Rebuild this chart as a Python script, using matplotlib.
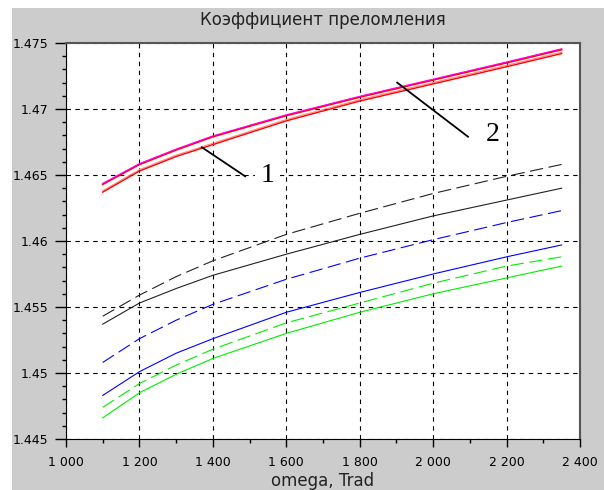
import matplotlib
matplotlib.use("Agg")
import matplotlib.pyplot as plt
import matplotlib.patheffects as pe
from matplotlib.patches import Rectangle
from matplotlib.ticker import MultipleLocator, FuncFormatter

# Данные
omega = [1100, 1200, 1300, 1400, 1600, 1800, 2000, 2200, 2350]

n_red_2 = [1.4643, 1.4658, 1.4669, 1.4679, 1.4695, 1.4709, 1.4722, 1.4735, 1.4745]
n_red_1 = [1.4637, 1.4653, 1.4664, 1.4673, 1.4691, 1.4706, 1.4719, 1.4732, 1.4742]
n_black_dash = [1.4543, 1.4559, 1.4573, 1.4585, 1.4605, 1.4621, 1.4636, 1.4649, 1.4658]
n_black = [1.4537, 1.4553, 1.4564, 1.4574, 1.4590, 1.4605, 1.4619, 1.4631, 1.4640]
n_blue_dash = [1.4508, 1.4526, 1.4540, 1.4552, 1.4571, 1.4587, 1.4601, 1.4614, 1.4623]
n_blue = [1.4483, 1.4501, 1.4515, 1.4526, 1.4546, 1.4561, 1.4575, 1.4588, 1.4597]
n_green_dash = [1.4474, 1.4492, 1.4506, 1.4518, 1.4538, 1.4553, 1.4568, 1.4581, 1.4588]
n_green = [1.4466, 1.4485, 1.4499, 1.4511, 1.4530, 1.4546, 1.4560, 1.4572, 1.4581]

# подписи кривых: (текст, позиция текста, начало линии, конец линии)
labels = ["1", "2"]
label_pos = [(1549, 1.4650), (2161, 1.4681)]
leader_start = [(1370, 1.4671), (1902, 1.4720)]
leader_end = [(1488, 1.4649), (2095, 1.4679)]

title = "Коэффициент преломления"
xlabel = "omega, Trad"

fig = plt.figure(figsize=(6.04, 4.90), dpi=100)
fig.patch.set_facecolor("white")
# серый фон окна
fig.patches.append(Rectangle((12 / 604, 0), 1, (490 - 8) / 490, transform=fig.transFigure,
                             facecolor="#cccccc", edgecolor="none", zorder=-10))

ax = fig.add_axes([66 / 604, 51 / 490, 514 / 604, 396 / 490])
ax.set_facecolor("white")

dash = (0, (12, 5))
ax.plot(omega, n_black_dash, color="#222222", lw=0.8, linestyle=dash)
ax.plot(omega, n_black, color="#222222", lw=0.8)
ax.plot(omega, n_blue_dash, color="#0000ff", lw=0.8, linestyle=dash)
ax.plot(omega, n_blue, color="#0000ff", lw=0.8)
ax.plot(omega, n_green_dash, color="#00ee00", lw=0.8, linestyle=dash)
ax.plot(omega, n_green, color="#00ee00", lw=0.8)

# красные кривые (двойная линия)
ax.plot(omega, n_red_1, color="red", lw=1.0,
        path_effects=[pe.Stroke(linewidth=0.8, foreground="#ff8888", offset=(0, 1.0)), pe.Normal()])
ax.plot(omega, n_red_2, color="red", lw=1.3,
        path_effects=[pe.Normal(), pe.Stroke(linewidth=0.8, foreground="#ff00ff", offset=(0, 0.6))])

# выноски
for txt, pos, p0, p1 in zip(labels, label_pos, leader_start, leader_end):
    ax.text(pos[0], pos[1], txt, fontsize=20, family="Liberation Serif", ha="center", va="center",
            bbox=dict(facecolor="white", edgecolor="none", pad=4), zorder=4)
    ax.plot([p0[0], p1[0]], [p0[1], p1[1]], color="black", lw=1.3, zorder=5)

ax.set_xlim(1000, 2400)
ax.set_ylim(1.445, 1.475)
ax.xaxis.set_major_locator(MultipleLocator(200))
ax.xaxis.set_minor_locator(MultipleLocator(100))
ax.yaxis.set_major_locator(MultipleLocator(0.005))
ax.yaxis.set_minor_locator(MultipleLocator(0.001))
ax.xaxis.set_major_formatter(FuncFormatter(lambda v, p: f"{int(round(v)):,}".replace(",", " ")))
ax.yaxis.set_major_formatter(FuncFormatter(lambda v, p: f"{v:g}"))

ax.grid(True, which="major", color="black", linestyle=(0, (4, 4)), linewidth=0.8)
ax.set_axisbelow(True)

ax.tick_params(axis="both", which="major", labelsize=9, direction="out", length=6, width=1, color="black")
ax.tick_params(axis="x", which="major", pad=6)
ax.tick_params(axis="y", which="major", length=8, pad=5)
ax.tick_params(axis="both", which="minor", direction="out", length=3, width=1)

ax.spines["left"].set_color("black")
ax.spines["bottom"].set_color("black")
ax.spines["top"].set_color("#555555")
ax.spines["right"].set_color("#555555")
ax.spines["top"].set_linewidth(1.5)
ax.spines["right"].set_linewidth(1.5)

fig.text(323 / 604, 1 - 20 / 490, title, fontsize=12, color="#222222", ha="center", va="center")
fig.text(323 / 604, 1 - 481 / 490, xlabel, fontsize=12, color="#222222", ha="center", va="center")

fig.savefig("out.png", dpi=100)
